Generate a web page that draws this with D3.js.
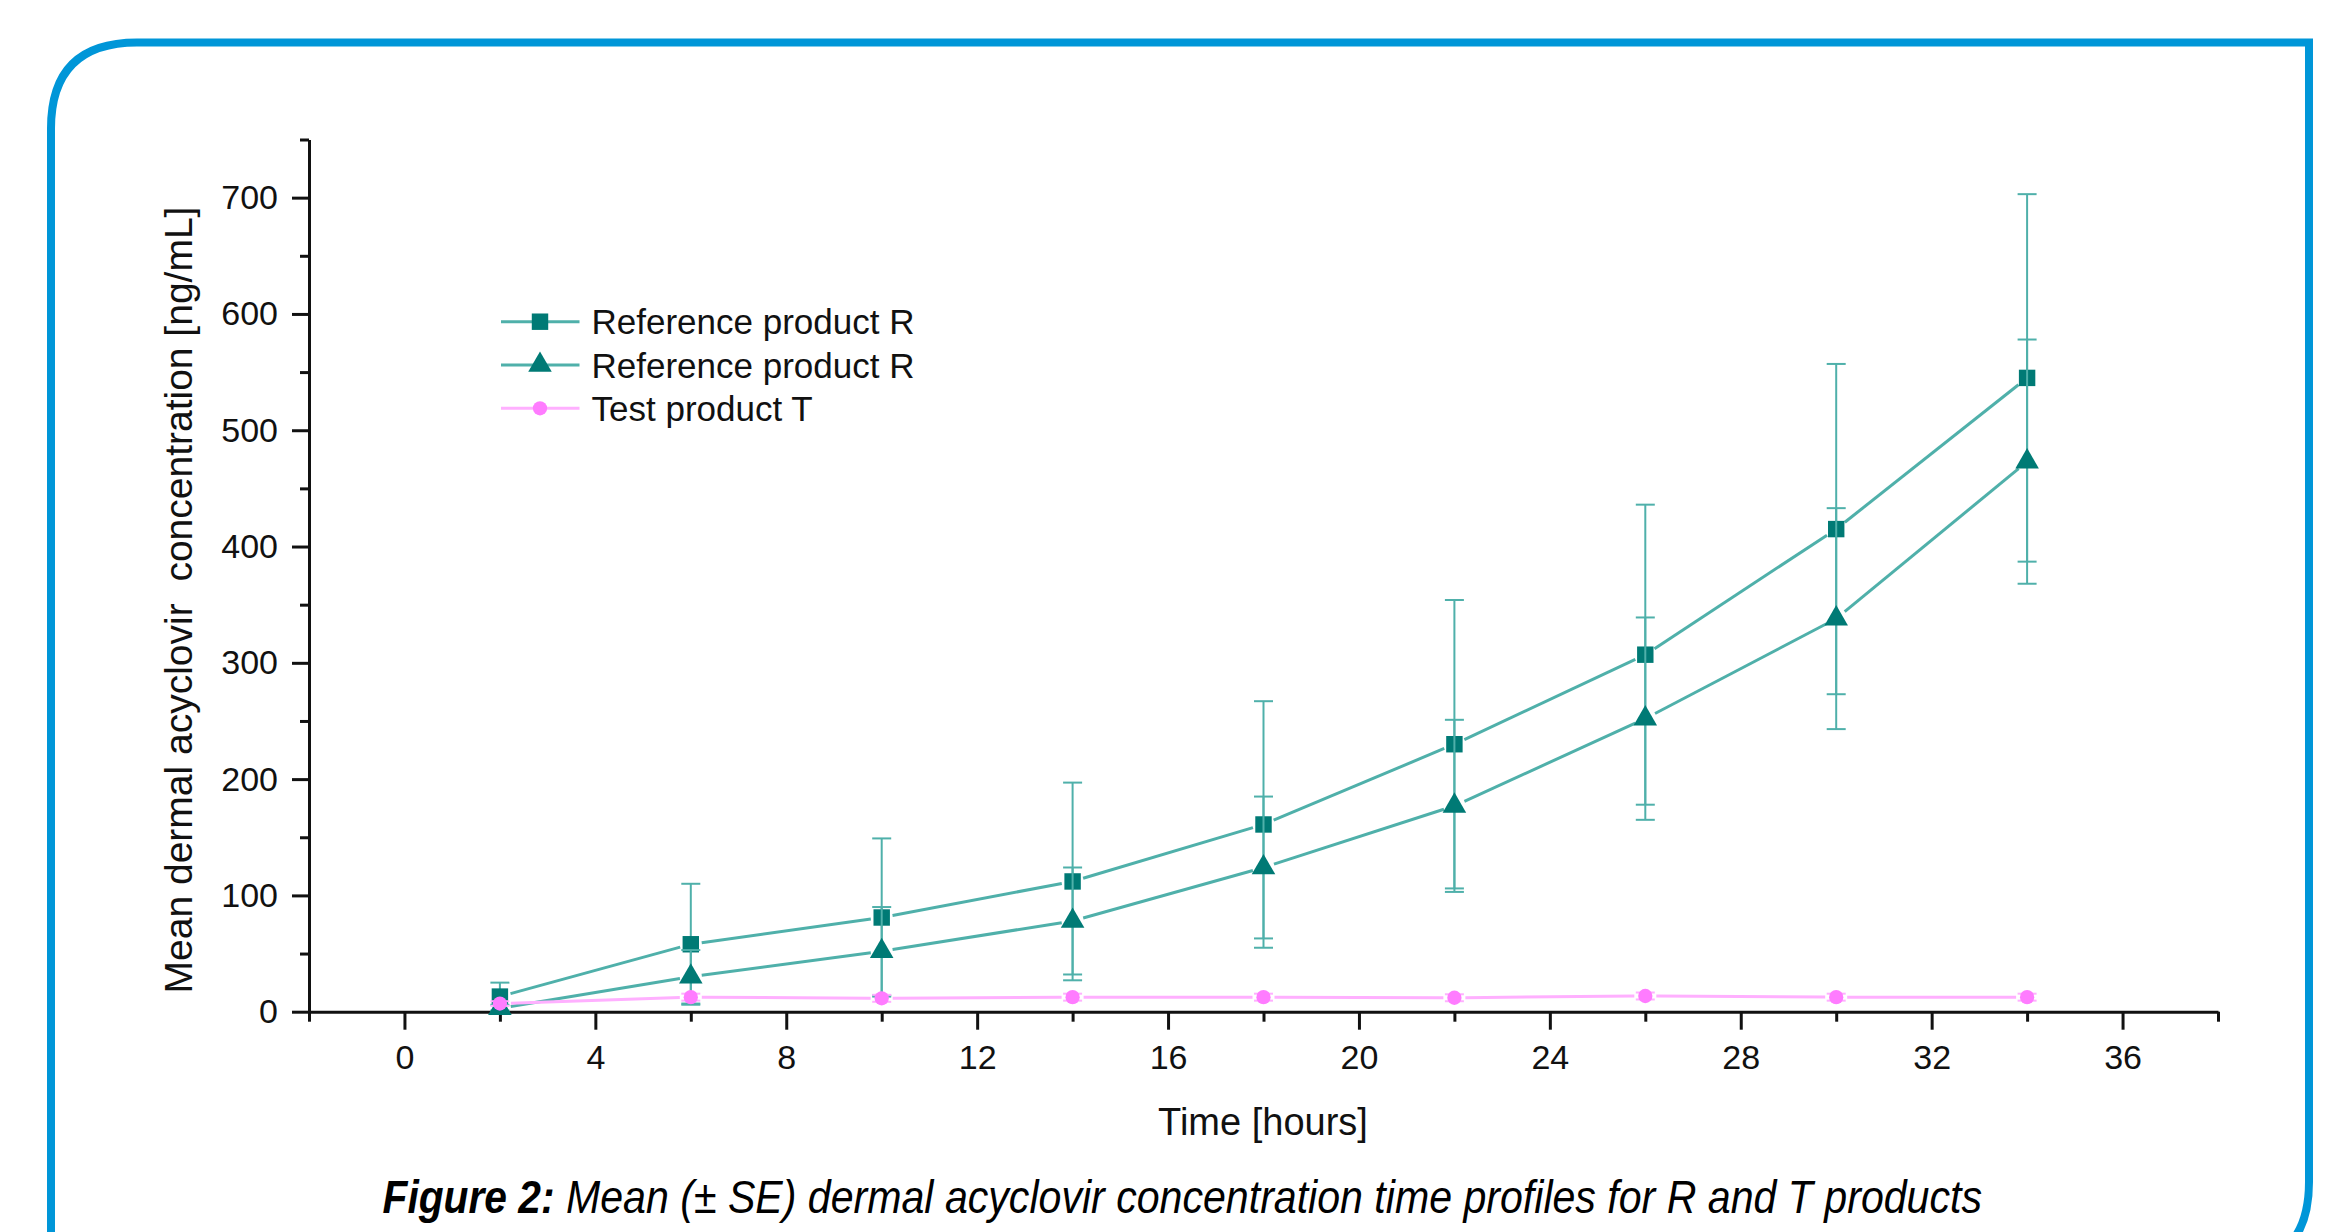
<!DOCTYPE html>
<html>
<head>
<meta charset="utf-8">
<script src="https://cdn.jsdelivr.net/npm/d3@7"></script>
<style>
  html, body { margin: 0; padding: 0; background: #fff; }
  svg text { font-family: "Liberation Sans", Arial, sans-serif; fill: #111; }
</style>
</head>
<body>
<svg id="chart" width="2345" height="1232"></svg>
<script>
// values
var times = [2, 6, 10, 14, 18, 22, 26, 30, 34];
var refSquare = [13, 58, 81, 112, 161, 230, 307, 415, 545];
var refSquareSE = [12, 52, 68, 85, 106, 124, 129, 142, 158];
var refTriangle = [3, 30, 52, 78, 124, 177, 252, 338, 473];
var refTriangleSE = [3, 23, 38, 46, 61, 74, 87, 95, 105];
var testT = [7, 12.5, 11.5, 12.5, 12.5, 12, 13.5, 12.5, 12.5];
var testTSE = [2, 3, 3, 3, 3, 3, 3, 3, 3];

var xMajor = [0, 4, 8, 12, 16, 20, 24, 28, 32, 36];
var xMinor = [-2, 2, 6, 10, 14, 18, 22, 26, 30, 34, 38];
var yMajor = [0, 100, 200, 300, 400, 500, 600, 700];
var yMinor = [50, 150, 250, 350, 450, 550, 650, 750];

var legendNames = ["Reference product R", "Reference product R", "Test product T"];

var teal = "#007a75";
var tealLine = "#4fb0aa";
var pink = "#ff7cff";
var pinkLine = "#ffb0ff";

var svg = d3.select("#chart");

// rounded frame
var L = 51, T = 42.5, R = 2309, B = 1268, rr = 86;
svg.append("path")
  .attr("d", "M" + L + "," + (B + 40) + " L" + L + "," + (T + rr) +
    " Q" + L + "," + T + " " + (L + rr) + "," + T +
    " L" + R + "," + T + " L" + R + "," + (B - rr) +
    " Q" + R + "," + B + " " + (R - rr) + "," + B + " L" + (L + rr) + "," + B)
  .attr("fill", "none")
  .attr("stroke", "#0096d8")
  .attr("stroke-width", 8);

var x = d3.scaleLinear().domain([-2, 38]).range([309, 2218]);
var y = d3.scaleLinear().domain([0, 750]).range([1011.7, 139.5]);

function styleAxis(g) {
  g.selectAll("path, line").attr("stroke", "#111").attr("stroke-width", 3);
  g.selectAll("text").attr("font-size", 34).attr("fill", "#111")
    .attr("font-family", "'Liberation Sans', Arial, sans-serif");
}

// x axis
svg.append("g").attr("transform", "translate(0," + y(0) + ")")
  .call(d3.axisBottom(x).tickValues(xMinor).tickSize(10).tickSizeOuter(0).tickFormat(""))
  .call(styleAxis);
svg.append("g").attr("transform", "translate(0," + y(0) + ")")
  .call(d3.axisBottom(x).tickValues(xMajor).tickSize(18).tickPadding(15).tickFormat(d3.format("d")))
  .call(styleAxis)
  .call(g => g.select(".domain").remove());

// y axis
svg.append("g").attr("transform", "translate(" + x(-2) + ",0)")
  .call(d3.axisLeft(y).tickValues(yMinor).tickSize(9).tickSizeOuter(0).tickFormat(""))
  .call(styleAxis);
svg.append("g").attr("transform", "translate(" + x(-2) + ",0)")
  .call(d3.axisLeft(y).tickValues(yMajor).tickSize(17).tickPadding(14).tickFormat(d3.format("d")))
  .call(styleAxis)
  .call(g => g.select(".domain").remove());

// axis titles
svg.append("text")
  .attr("x", 1263).attr("y", 1135)
  .attr("text-anchor", "middle")
  .attr("font-size", 38)
  .text("Time [hours]");

svg.append("text")
  .attr("transform", "translate(192,600) rotate(-90)")
  .attr("text-anchor", "middle")
  .attr("font-size", 39)
  .style("white-space", "pre")
  .text("Mean dermal acyclovir  concentration [ng/mL]");

var series = [
  { vals: refSquare, se: refSquareSE, sym: d3.symbolSquare, size: 270, fill: teal, line: tealLine },
  { vals: refTriangle, se: refTriangleSE, sym: d3.symbolTriangle, size: 240, fill: teal, line: tealLine },
  { vals: testT, se: testTSE, sym: d3.symbolCircle, size: 160, fill: pink, line: pinkLine }
];

var plot = svg.append("g");
var gap = 11;

series.forEach(function (s) {
  var pts = times.map(function (t, i) { return { t: t, v: s.vals[i], e: s.se[i] }; });

  // error bars
  var eb = plot.append("g").attr("stroke", s.line).attr("stroke-width", 2);
  eb.selectAll("line.v").data(pts).enter().append("line")
    .attr("x1", d => x(d.t)).attr("x2", d => x(d.t))
    .attr("y1", d => y(d.v + d.e)).attr("y2", d => y(Math.max(0, d.v - d.e)));
  eb.selectAll("line.top").data(pts).enter().append("line")
    .attr("x1", d => x(d.t) - 9.5).attr("x2", d => x(d.t) + 9.5)
    .attr("y1", d => y(d.v + d.e)).attr("y2", d => y(d.v + d.e));
  eb.selectAll("line.bot").data(pts).enter().append("line")
    .attr("x1", d => x(d.t) - 9.5).attr("x2", d => x(d.t) + 9.5)
    .attr("y1", d => y(Math.max(0, d.v - d.e))).attr("y2", d => y(Math.max(0, d.v - d.e)));

  // connecting segments, with a small gap around each marker
  var segs = d3.pairs(pts);
  plot.append("g").selectAll("line").data(segs).enter().append("line")
    .each(function (p) {
      var x1 = x(p[0].t), y1 = y(p[0].v), x2 = x(p[1].t), y2 = y(p[1].v);
      var len = Math.hypot(x2 - x1, y2 - y1);
      var ux = (x2 - x1) / len, uy = (y2 - y1) / len;
      d3.select(this)
        .attr("x1", x1 + ux * gap).attr("y1", y1 + uy * gap)
        .attr("x2", x2 - ux * gap).attr("y2", y2 - uy * gap);
    })
    .attr("stroke", s.line).attr("stroke-width", 3);

  // markers
  plot.append("g").selectAll("path").data(pts).enter().append("path")
    .attr("transform", d => "translate(" + x(d.t) + "," + y(d.v) + ")")
    .attr("d", d3.symbol().type(s.sym).size(s.size))
    .attr("fill", s.fill);
});

// legend
var legY = [321.7, 365, 408.3];
var legend = svg.append("g");
series.forEach(function (s, i) {
  legend.append("line")
    .attr("x1", 501).attr("x2", 579.5)
    .attr("y1", legY[i]).attr("y2", legY[i])
    .attr("stroke", s.line).attr("stroke-width", 3);
  legend.append("path")
    .attr("transform", "translate(540," + legY[i] + ")")
    .attr("d", d3.symbol().type(s.sym).size(s.size))
    .attr("fill", s.fill);
  legend.append("text")
    .attr("x", 591.5).attr("y", legY[i] + 12.5)
    .attr("font-size", 35)
    .text(legendNames[i]);
});

// caption
svg.append("text")
  .attr("x", 382.5).attr("y", 1213)
  .attr("font-size", 46).attr("font-style", "italic").attr("font-weight", "bold")
  .attr("textLength", 172).attr("lengthAdjust", "spacingAndGlyphs")
  .style("fill", "#000")
  .text("Figure 2:");
svg.append("text")
  .attr("x", 566).attr("y", 1213)
  .attr("font-size", 46).attr("font-style", "italic")
  .attr("textLength", 1416).attr("lengthAdjust", "spacingAndGlyphs")
  .style("fill", "#000")
  .text("Mean (\u00b1 SE) dermal acyclovir concentration time profiles for R and T products");
</script>
</body>
</html>
